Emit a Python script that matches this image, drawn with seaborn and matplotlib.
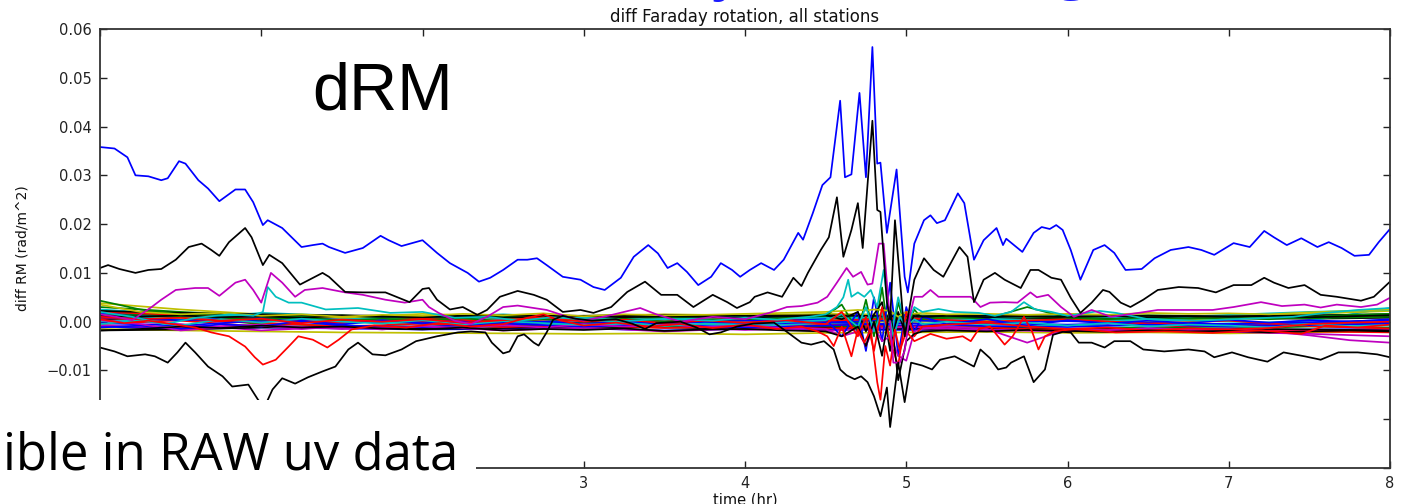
import numpy as np
import matplotlib
matplotlib.use("Agg")
import matplotlib.pyplot as plt
import seaborn as sns
from matplotlib.patches import Rectangle
from matplotlib.ticker import FuncFormatter

# ---------------- data (time in hr, values in 1e-3 rad/m^2) ----------------
blue_pts = [(0.00, 35.8), (0.09, 35.5), (0.17, 33.7), (0.22, 30.0), (0.30, 29.8), (0.38, 29.0), (0.42, 29.4),
            (0.49, 32.9), (0.53, 32.4), (0.61, 29.0), (0.67, 27.3), (0.74, 24.7), (0.84, 27.1), (0.90, 27.1),
            (0.95, 24.5), (1.01, 19.8), (1.04, 20.8), (1.13, 19.2), (1.25, 15.3), (1.32, 15.7), (1.38, 16.0),
            (1.42, 15.3), (1.52, 14.1), (1.63, 15.1), (1.74, 17.6), (1.79, 16.7), (1.87, 15.5), (2.00, 16.7),
            (2.09, 14.1), (2.17, 12.0), (2.28, 10.0), (2.35, 8.2), (2.42, 9.0), (2.50, 10.6), (2.59, 12.7),
            (2.65, 12.7), (2.71, 13.0), (2.77, 11.6), (2.87, 9.2), (2.98, 8.6), (3.06, 7.1), (3.13, 6.5),
            (3.23, 9.0), (3.31, 13.3), (3.40, 15.7), (3.46, 14.0), (3.52, 11.0), (3.58, 12.0), (3.64, 10.2),
            (3.71, 7.5), (3.79, 9.2), (3.85, 12.0), (3.92, 10.6), (3.97, 9.2), (4.03, 10.6), (4.10, 12.0),
            (4.18, 10.6), (4.24, 12.7), (4.33, 18.2), (4.36, 16.8), (4.42, 22.2), (4.48, 28.0), (4.53, 29.6),
            (4.59, 45.3), (4.62, 29.6), (4.66, 30.2), (4.71, 46.9), (4.75, 29.6), (4.79, 56.3), (4.82, 32.4),
            (4.84, 32.6), (4.88, 18.2), (4.94, 31.2), (4.99, 9.2), (5.01, 6.0), (5.05, 16.0), (5.11, 20.8),
            (5.15, 21.8), (5.19, 20.2), (5.24, 20.8), (5.32, 26.3), (5.36, 24.3), (5.42, 12.7), (5.48, 16.7),
            (5.56, 19.2), (5.60, 15.7), (5.62, 17.0), (5.72, 14.3), (5.79, 18.2), (5.84, 19.4), (5.89, 19.0),
            (5.93, 19.8), (5.97, 18.8), (6.02, 14.7), (6.08, 8.6), (6.16, 14.7), (6.23, 15.7), (6.29, 14.1),
            (6.36, 10.6), (6.46, 10.8), (6.54, 13.0), (6.64, 14.7), (6.75, 15.3), (6.83, 14.7), (6.91, 13.7),
            (7.03, 16.1), (7.13, 15.3), (7.22, 18.6), (7.28, 17.3), (7.36, 15.7), (7.45, 17.1), (7.55, 15.3),
            (7.62, 16.3), (7.70, 15.1), (7.78, 13.5), (7.87, 13.7), (7.93, 16.3), (8.00, 19.0)]

black_up_pts = [(0.00, 11.0), (0.05, 11.6), (0.12, 10.8), (0.22, 10.0), (0.30, 10.6), (0.38, 10.8), (0.47, 12.7),
                (0.55, 15.3), (0.63, 16.0), (0.69, 14.7), (0.74, 13.5), (0.80, 16.3), (0.90, 19.2), (0.94, 17.3),
                (1.01, 11.6), (1.05, 13.7), (1.13, 12.0), (1.24, 7.6), (1.38, 10.0), (1.42, 9.2), (1.52, 6.1),
                (1.63, 6.0), (1.77, 6.0), (1.92, 4.0), (2.00, 6.7), (2.04, 6.9), (2.09, 4.5), (2.17, 2.5),
                (2.25, 3.0), (2.34, 1.4), (2.40, 2.4), (2.48, 5.1), (2.59, 6.3), (2.69, 5.5), (2.77, 4.5),
                (2.87, 2.0), (2.98, 2.4), (3.06, 1.8), (3.17, 3.0), (3.27, 6.1), (3.38, 8.2), (3.48, 5.5),
                (3.58, 5.5), (3.68, 3.0), (3.80, 5.5), (3.89, 4.0), (3.95, 2.8), (4.03, 4.0), (4.06, 5.1),
                (4.14, 6.0), (4.23, 5.1), (4.30, 9.0), (4.35, 7.3), (4.39, 10.0), (4.47, 14.7), (4.52, 17.3),
                (4.57, 25.5), (4.61, 13.3), (4.66, 18.8), (4.70, 24.3), (4.73, 15.1), (4.79, 41.2), (4.82, 22.9),
                (4.84, 22.5), (4.88, 4.0), (4.90, 0.4), (4.93, 20.8), (4.99, -3.0), (5.05, 8.6), (5.11, 13.0),
                (5.17, 10.6), (5.23, 9.2), (5.33, 15.3), (5.38, 13.3), (5.42, 4.0), (5.48, 8.6), (5.55, 10.0),
                (5.61, 8.6), (5.71, 6.9), (5.77, 10.6), (5.82, 10.6), (5.90, 9.0), (5.96, 8.6), (6.02, 4.9),
                (6.08, 1.8), (6.15, 3.9), (6.22, 6.5), (6.26, 6.1), (6.33, 3.9), (6.39, 3.0), (6.47, 4.5),
                (6.56, 6.5), (6.69, 7.1), (6.81, 6.9), (6.92, 6.0), (7.03, 7.5), (7.14, 7.5), (7.22, 9.0),
                (7.28, 8.0), (7.37, 6.9), (7.47, 7.5), (7.57, 5.5), (7.67, 5.1), (7.82, 4.3), (7.90, 5.1),
                (8.00, 8.2)]

black_low_pts = [(0.00, -5.3), (0.09, -6.1), (0.17, -7.1), (0.28, -6.7), (0.34, -7.1), (0.42, -8.4), (0.48, -6.3),
                 (0.53, -4.3), (0.59, -6.3), (0.67, -9.2), (0.76, -11.2), (0.82, -13.3), (0.92, -12.9),
                 (0.98, -16.0), (1.02, -17.5), (1.07, -13.9), (1.13, -11.6), (1.21, -12.7), (1.29, -11.4),
                 (1.38, -10.2), (1.46, -9.2), (1.54, -5.7), (1.60, -4.3), (1.69, -6.7), (1.77, -6.9), (1.87, -5.7),
                 (1.96, -4.0), (2.00, -3.7), (2.09, -3.0), (2.22, -2.2), (2.30, -2.0), (2.39, -2.2), (2.43, -4.3),
                 (2.50, -6.5), (2.54, -6.1), (2.59, -3.0), (2.63, -2.6), (2.69, -4.3), (2.72, -4.9), (2.77, -2.2),
                 (2.81, 0.4), (2.87, 1.2), (2.95, 0.6), (3.05, 0.2), (3.20, 0.5), (3.30, -0.4), (3.38, -1.5),
                 (3.45, -0.3), (3.60, 0.0), (3.70, -1.2), (3.78, -2.6), (3.85, -2.2), (3.95, -1.0), (4.05, -0.4),
                 (4.18, -0.2), (4.24, -1.6), (4.35, -4.3), (4.41, -4.7), (4.49, -4.0), (4.55, -5.7), (4.59, -9.8),
                 (4.63, -11.0), (4.68, -11.8), (4.72, -11.2), (4.76, -12.4), (4.80, -15.3), (4.84, -19.4),
                 (4.88, -13.5), (4.90, -21.6), (4.95, -8.4), (4.99, -16.5), (5.03, -8.4), (5.10, -9.0),
                 (5.16, -9.8), (5.21, -7.8), (5.30, -7.1), (5.42, -9.2), (5.46, -5.7), (5.52, -7.5), (5.57, -9.8),
                 (5.62, -9.4), (5.65, -8.4), (5.73, -7.1), (5.79, -12.4), (5.86, -9.8), (5.91, -2.7), (5.97, -2.1),
                 (6.02, -2.2), (6.07, -4.3), (6.15, -4.3), (6.23, -5.3), (6.29, -4.0), (6.39, -4.0), (6.47, -5.7),
                 (6.60, -6.1), (6.75, -5.7), (6.85, -6.1), (6.91, -7.3), (7.02, -6.3), (7.12, -7.3), (7.24, -8.2),
                 (7.34, -6.3), (7.47, -7.1), (7.57, -7.8), (7.68, -6.3), (7.80, -6.3), (7.92, -6.7), (8.00, -7.3)]

magenta_pts = [(0.00, 1.5), (0.10, 1.0), (0.20, 0.3), (0.32, 3.0), (0.38, 4.5), (0.47, 6.5), (0.59, 6.9), (0.67, 6.9),
               (0.74, 5.3), (0.84, 8.0), (0.90, 8.6), (0.95, 6.5), (1.00, 3.9), (1.06, 10.0), (1.13, 8.0),
               (1.21, 5.1), (1.27, 6.5), (1.38, 6.9), (1.52, 6.0), (1.63, 5.5), (1.77, 4.5), (1.89, 3.9),
               (2.00, 4.5), (2.04, 3.0), (2.10, 1.8), (2.20, 0.2), (2.30, -0.5), (2.40, 1.0), (2.50, 3.0),
               (2.59, 3.3), (2.77, 2.4), (2.90, 1.0), (3.00, 0.2), (3.15, 1.2), (3.35, 2.8), (3.45, 1.5),
               (3.60, 0.0), (3.80, 1.0), (4.00, 0.5), (4.15, 1.8), (4.26, 3.0), (4.35, 3.2), (4.45, 3.9),
               (4.51, 5.1), (4.57, 8.0), (4.63, 11.0), (4.67, 9.2), (4.72, 10.2), (4.76, 7.6), (4.79, 7.8),
               (4.83, 16.0), (4.86, 16.0), (4.89, 4.0), (4.92, -8.4), (4.96, -8.4), (4.99, -6.0), (5.02, 1.0),
               (5.05, 5.1), (5.10, 5.1), (5.15, 6.5), (5.20, 5.1), (5.32, 5.1), (5.40, 5.1), (5.46, 3.0),
               (5.52, 3.9), (5.61, 4.0), (5.69, 3.9), (5.77, 6.0), (5.81, 5.0), (5.88, 5.5), (5.96, 3.0),
               (6.04, 1.0), (6.15, 2.4), (6.27, 1.0), (6.44, 1.8), (6.56, 2.4), (6.75, 2.4), (6.90, 2.4),
               (7.03, 3.0), (7.20, 4.0), (7.33, 3.2), (7.47, 3.5), (7.57, 2.9), (7.67, 3.5), (7.82, 3.0),
               (7.92, 3.5), (8.00, 4.9)]

red_pts = [(0.00, 0.5), (0.15, -0.3), (0.30, 0.2), (0.45, -0.5), (0.59, -1.2), (0.69, -2.2), (0.80, -3.0),
           (0.90, -5.1), (0.96, -7.3), (1.01, -8.8), (1.09, -7.8), (1.17, -5.1), (1.23, -3.0), (1.32, -3.7),
           (1.41, -5.3), (1.48, -3.7), (1.56, -1.6), (1.70, -0.8), (1.90, -1.2), (2.10, -0.3), (2.30, -1.0),
           (2.50, -0.5), (2.65, 0.8), (2.75, 1.5), (2.85, 0.3), (3.00, -0.8), (3.20, -0.2), (3.40, -1.0),
           (3.60, -0.5), (3.80, -1.3), (4.00, -0.6), (4.20, -1.5), (4.35, -1.0), (4.45, -2.0), (4.51, -3.0),
           (4.55, -5.0), (4.60, -1.0), (4.66, -7.1), (4.70, -1.6), (4.74, -4.3), (4.78, -1.6), (4.82, -12.4),
           (4.84, -16.0), (4.87, -5.0), (4.90, -9.0), (4.93, -1.6), (4.96, -6.0), (5.00, -2.0), (5.05, -4.0),
           (5.15, -2.5), (5.25, -3.5), (5.35, -3.0), (5.40, -4.0), (5.45, -1.5), (5.52, -1.0), (5.61, -4.7),
           (5.66, -3.0), (5.73, 1.0), (5.78, -2.0), (5.82, -5.7), (5.86, -3.0), (5.92, -2.0), (6.05, -1.5),
           (6.30, -2.2), (6.60, -2.0), (6.90, -2.3), (7.20, -1.8), (7.45, -2.5), (7.60, -0.8), (7.80, -1.2),
           (8.00, -0.6)]

cyan_pts = [(0.00, 2.0), (0.20, 1.0), (0.40, -0.5), (0.60, 0.8), (0.80, 1.5), (0.95, 1.2), (1.01, 2.0), (1.04, 7.1),
            (1.09, 5.1), (1.17, 3.9), (1.25, 3.9), (1.40, 2.5), (1.60, 2.8), (1.80, 1.8), (2.00, 2.0), (2.20, 0.8),
            (2.40, 1.0), (2.60, 0.2), (2.80, 0.9), (3.00, 0.5), (3.20, 0.0), (3.50, 0.6), (3.80, 0.2), (4.00, 0.8),
            (4.20, 0.4), (4.40, 1.0), (4.50, 1.5), (4.57, 3.0), (4.61, 5.0), (4.64, 8.6), (4.66, 5.1), (4.70, 6.0),
            (4.74, 5.1), (4.78, 6.5), (4.82, 3.0), (4.86, 10.6), (4.89, 2.0), (4.92, -3.0), (4.96, 1.0),
            (5.00, -1.0), (5.05, 3.0), (5.10, 2.0), (5.20, 2.6), (5.30, 2.0), (5.45, 1.8), (5.55, 1.2),
            (5.65, 2.0), (5.73, 4.0), (5.80, 2.5), (5.90, 2.0), (6.00, 1.2), (6.20, 2.2), (6.30, 1.8),
            (6.50, 0.5), (6.80, 0.2), (7.10, 0.6), (7.40, 1.0), (7.60, 1.8), (7.80, 2.4), (8.00, 2.8)]

# quieter stations, sampled every half hour
quiet_t = [0.0, 0.5, 1.0, 1.5, 2.0, 2.5, 3.0, 3.5, 4.0, 4.5, 5.0, 5.5, 6.0, 6.5, 7.0, 7.5, 8.0]
quiet_vals = {
    "q01": ("k", [1.5, 1.2, 1.0, 0.8, 1.2, 1.0, 1.1, 0.9, 1.0, 0.9, 1.0, 0.8, 0.9, 1.0, 0.9, 1.1, 1.2]),
    "q02": ("k", [0.5, 0.8, 0.6, 0.9, 0.7, 0.8, 0.6, 0.7, 0.5, 0.6, 0.4, 0.5, 0.6, 0.5, 0.7, 0.6, 0.8]),
    "q03": ("y", [-1.5, -1.8, -2.0, -2.2, -2.3, -2.4, -2.5, -2.4, -2.6, -2.3, -2.2, -2.1, -2.3, -2.2, -2.4, -2.2, -2.0]),
    "q04": ("b", [-1.0, -1.5, -1.2, -1.4, -1.6, -1.5, -1.4, -1.8, -1.5, -1.6, -1.7, -1.6, -1.5, -1.7, -1.8, -1.6, -1.5]),
    "q05": ("g", [3.0, 2.0, 1.2, 0.5, 0.3, 0.0, -0.2, 0.3, 0.1, -0.3, 0.2, 0.5, 0.3, 0.6, 0.8, 1.2, 1.5]),
    "q06": ("c", [2.5, 1.5, 0.8, 0.2, -0.5, -0.3, -0.6, -0.4, -0.8, -0.5, -0.9, -1.0, -0.7, -0.9, -0.6, 0.2, 2.8]),
    "q07": ("r", [0.8, 0.2, -1.0, 0.5, 0.0, -0.5, -1.2, -0.8, -1.5, -0.6, -1.0, -1.3, -1.6, -1.2, -0.8, -0.5, -0.4]),
    "q08": ("m", [0.3, -0.5, -1.8, -1.0, -1.3, -0.8, -1.5, -1.0, -1.7, -1.2, -1.4, -1.8, -1.5, -1.9, -1.6, -1.8, -1.7]),
    "q09": ("y", [3.8, 2.5, 1.5, 0.8, 0.4, 0.6, 0.2, 0.5, 0.0, 0.3, -0.1, 0.2, 0.4, 0.0, 0.6, 0.9, 1.2]),
    "q10": ("b", [1.8, 0.9, 0.2, 0.6, -0.2, 0.3, -0.4, 0.1, -0.5, -0.1, -0.8, -0.3, -0.6, -0.2, -0.5, -0.3, -0.1]),
    "q11": ("g", [2.2, 1.0, -0.5, -0.8, -1.0, -0.6, -1.2, -1.0, -1.4, -0.9, -1.3, -1.1, -1.5, -1.2, -1.4, -1.0, -1.2]),
    "q12": ("k", [-1.8, -1.6, -1.2, -1.0, -1.5, -1.3, -1.0, -1.2, -1.4, -1.2, -1.5, -1.3, -1.6, -1.5, -1.4, -1.6, -1.8]),
    "q13": ("c", [0.0, 0.5, 1.2, 0.8, 0.3, 0.9, 0.5, 1.0, 0.4, 0.8, 0.2, 0.6, 0.1, 0.4, 0.0, -0.3, -0.8]),
    "q14": ("r", [-0.5, 0.3, -0.2, -1.0, -0.4, -1.1, -0.7, -1.3, -0.9, -1.4, -1.0, -1.2, -1.8, -1.5, -1.9, -2.0, -2.2]),
    "q15": ("y", [1.0, 0.6, 1.4, 0.8, 1.6, 1.0, 1.2, 1.5, 1.3, 1.6, 1.4, 1.2, 1.5, 1.3, 1.0, 1.6, 2.2]),
    "q16": ("b", [-0.3, -0.8, 0.2, -0.3, 0.4, -0.2, 0.3, -0.1, 0.2, 0.0, 0.3, -0.2, 0.1, -0.3, -0.5, -0.1, 0.3]),
    "q17": ("g", [1.2, 1.6, 0.9, 1.3, 0.6, 1.1, 0.4, 0.9, 0.7, 1.2, 0.5, 1.0, 0.8, 1.3, 1.1, 0.7, 1.0]),
    "q18": ("r", [2.0, 1.4, 0.5, -0.2, 0.6, 0.1, 0.8, 0.3, 0.9, 0.2, 0.7, 0.0, 0.5, -0.4, 0.2, -0.9, -1.4]),
    "q19": ("m", [-0.8, -1.2, -0.6, -1.5, -0.9, -1.8, -1.2, -2.0, -1.4, -1.9, -1.1, -1.7, -2.0, -1.6, -2.1, -2.5, -3.0]),
    "q20": ("c", [1.4, 0.4, 1.8, 1.2, 0.9, 1.5, 0.8, 0.4, 1.1, 0.6, 1.3, 0.9, 1.2, 0.7, 1.4, 2.0, 2.4]),
    "q21": ("b", [0.9, 0.3, 0.7, -0.8, -1.1, -0.4, -1.0, -0.6, -1.2, -0.8, -0.3, -0.9, -1.1, -0.6, -1.0, -0.7, -0.4]),
    "q22": ("k", [2.2, 1.8, 1.5, 1.3, 1.1, 1.3, 1.2, 1.4, 1.2, 1.3, 1.1, 1.2, 1.0, 1.2, 1.1, 1.3, 1.5]),
}

# stations active during the disturbance, denser sampling around 4.5-5.1 hr
active_t = [0.0, 0.25, 0.5, 0.75, 1.0, 1.25, 1.5, 1.75, 2.0, 2.25, 2.5, 2.75, 3.0, 3.25, 3.5, 3.75, 4.0, 4.25,
            4.5, 4.6, 4.7, 4.75, 4.8, 4.85, 4.9, 4.95, 5.0, 5.05, 5.1, 5.25, 5.5, 5.75,
            6.0, 6.25, 6.5, 6.75, 7.0, 7.25, 7.5, 7.75, 8.0]
active_vals = {
    "a1": ("g", [4.3, 2.5, 1.5, 0.8, 0.4, 0.9, 0.2, 0.6, 0.3, 0.7, 0.1, 0.5, 0.2, 0.6, 0.0, 0.4, 0.5, 0.8,
                 1.2, 3.5, -2.0, 4.5, -3.0, 7.0, -5.0, 4.0, -2.0, 2.5, 0.5, 1.0, 0.6, 3.0,
                 0.8, 0.5, 0.9, 0.6, 0.8, 0.5, 1.0, 1.4, 1.6]),
    "a2": ("b", [-1.2, -0.8, -1.5, -0.5, -1.0, 0.2, -0.6, 0.3, -0.4, 0.0, -0.8, -0.2, -0.6, 0.1, -0.5, 0.0, -0.3, 0.2,
                 0.5, -3.0, 2.0, -6.0, 5.0, -4.0, 8.0, -7.0, 3.0, -2.0, 1.0, -0.5, 0.5, -0.8,
                 0.3, -0.4, 0.2, -0.3, 0.4, -0.2, 0.3, 0.0, 0.5]),
    "a3": ("k", [1.2, 1.0, 1.3, 0.9, 1.1, 0.8, 1.2, 1.0, 0.9, 1.1, 0.8, 1.0, 1.2, 0.9, 1.1, 1.0, 0.8, 1.1,
                 1.3, 0.5, 2.0, -2.0, 1.5, 4.0, -6.0, 2.0, -3.0, 1.5, 1.0, 1.2, 0.9, 1.1,
                 1.0, 1.2, 0.9, 1.1, 1.0, 1.2, 0.9, 1.1, 1.3]),
    "a4": ("m", [0.3, -0.5, -1.8, -1.2, -0.8, -1.5, -1.0, -1.6, -0.9, -1.3, -0.7, -1.2, -0.5, -1.0, -0.6, -1.1, -0.8, -1.3,
                 -1.5, -3.0, -2.0, -5.0, -1.0, -4.0, -3.0, -7.0, -8.0, -2.0, -1.5, -1.0, -1.5, -4.3,
                 -1.5, -1.8, -1.3, -1.6, -1.5, -2.0, -2.8, -3.8, -4.3]),
    "a5": ("y", [3.5, 2.0, 1.5, 1.8, 1.2, 1.5, 1.0, 1.4, 1.2, 1.6, 1.3, 1.7, 1.1, 1.5, 1.3, 1.4, 1.6, 1.8,
                 2.0, 2.2, 2.4, 2.3, 2.5, 2.4, 2.2, 1.0, 2.0, 1.6, 1.8, 1.5, 1.6, 1.4,
                 1.6, 1.4, 1.8, 1.6, 1.7, 1.5, 1.9, 2.2, 2.5]),
    "a6": ("c", [-0.5, 0.2, -0.8, 0.5, -0.2, 0.6, 0.0, -0.4, 0.3, -0.6, 0.1, -0.3, -0.7, -0.2, -0.9, -0.4, -0.6, -0.1,
                 0.3, 1.5, -1.0, 3.0, -2.0, 2.0, -4.0, 5.0, -1.0, 0.5, -0.5, 0.0, -0.6, -0.2,
                 -0.8, -0.3, -1.0, -0.6, -0.8, -1.2, -0.5, -0.9, -0.7]),
    "a7": ("r", [1.0, 0.5, 0.8, 0.2, 0.6, -0.3, 0.4, 0.0, 0.5, -0.2, 0.3, 0.9, 0.0, 0.4, -0.3, 0.2, -0.2, 0.3,
                 -0.5, 2.0, -3.0, 1.0, -6.0, 3.0, -4.0, -9.0, 2.0, -3.0, -1.0, -0.6, -0.2, -1.0,
                 -1.5, -1.2, -1.8, -1.4, -1.6, -1.3, -0.5, -0.2, 0.0]),
    "a8": ("k", [-1.8, -1.5, -1.0, -1.3, -0.8, -1.2, -1.0, -1.4, -1.6, -1.2, -1.8, -1.5, -1.7, -1.4, -1.9, -1.6, -1.5, -1.8,
                 -2.0, -3.0, -1.0, -5.0, 0.0, -7.0, 3.0, -12.0, -4.0, -2.5, -2.0, -1.8, -2.0, -1.7,
                 -1.9, -2.1, -1.8, -2.0, -1.9, -2.2, -2.0, -1.8, -2.0]),
}

x_ticks = [0, 1, 2, 3, 4, 5, 6, 7, 8]
y_ticks = [-0.03, -0.02, -0.01, 0.00, 0.01, 0.02, 0.03, 0.04, 0.05, 0.06]

# ---------------- style ----------------
classic = {"b": "#0000ff", "g": "#008000", "r": "#ff0000", "c": "#00bfbf",
           "m": "#bf00bf", "y": "#bfbf00", "k": "#000000"}

sns.set_theme(style="ticks")
plt.rcParams["font.family"] = ["DejaVu Sans"]
plt.rcParams["axes.unicode_minus"] = True

W, H = 1407, 504
fig = plt.figure(figsize=(W / 100, H / 100), dpi=100)
fig.patch.set_facecolor("white")
ax = fig.add_axes([100 / W, 36 / H, 1290 / W, 439 / H])
ax.set_facecolor("white")

LW = 1.25


def draw(t, v, c):
    sns.lineplot(x=np.asarray(t, dtype=float), y=np.asarray(v, dtype=float) * 1e-3,
                 color=classic[c], linewidth=LW, ax=ax, estimator=None, sort=False, legend=False)


for key, (c, vals) in quiet_vals.items():
    draw(quiet_t, vals, c)
for key, (c, vals) in active_vals.items():
    draw(active_t, vals, c)

for pts, c in [(cyan_pts, "c"), (red_pts, "r"), (magenta_pts, "m"),
               (black_low_pts, "k"), (black_up_pts, "k"), (blue_pts, "b")]:
    t, v = zip(*pts)
    draw(t, v, c)

ax.set_xlim(0, 8)
ax.set_ylim(-0.03, 0.06)
ax.set_xticks(x_ticks)
ax.set_yticks(y_ticks)
ax.yaxis.set_major_formatter(FuncFormatter(
    lambda v, p: ("%.2f" % v).replace("-", "\u2212") if abs(v) > 1e-9 else "0.00"))
ax.tick_params(direction="in", top=True, right=True, length=5, width=1, colors="#222222",
               labelsize=10.5, pad=6)
for s in ax.spines.values():
    s.set_color("#333333")
    s.set_linewidth(1.3)

ax.set_title("diff Faraday rotation, all stations", fontsize=12, pad=5, color="#111111")
ax.set_xlabel("time (hr)", fontsize=10.5, labelpad=1, color="#111111")
ax.set_ylabel("diff RM (rad/m^2)", fontsize=10, labelpad=12, color="#111111")

# ---------------- slide overlays ----------------
fig.add_artist(Rectangle((0, 0), 476 / W, 104 / H, transform=fig.transFigure,
                         facecolor="white", edgecolor="none", zorder=10))
fig.text(312 / W, 1 - 110 / H, "dRM", fontsize=48, family=["Liberation Sans"],
         color="black", ha="left", va="baseline", zorder=11)
fig.text(3 / W, 1 - 470 / H, "ible in RAW uv data", fontsize=36.6, family=["Open Sans"],
         color="black", ha="left", va="baseline", zorder=11)
fig.text(1072 / W, 1 + 13 / H, "g", fontsize=44, family=["Open Sans"], color="#1a1aff",
         ha="center", va="baseline", zorder=11)
fig.text(728 / W, 1 + 12.5 / H, "y", fontsize=44, family=["Open Sans"], color="#1a1aff",
         ha="center", va="baseline", zorder=11)

fig.savefig("out.png", dpi=100, facecolor="white")
